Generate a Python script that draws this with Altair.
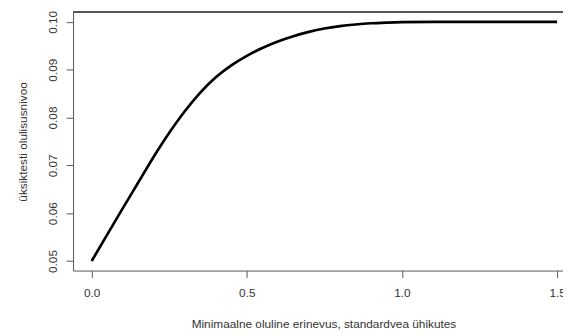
import altair as alt
import pandas as pd

# Curve
x_vals = [0.0, 0.05, 0.10, 0.15, 0.20, 0.25, 0.30, 0.35, 0.40, 0.45, 0.50,
          0.55, 0.60, 0.65, 0.70, 0.75, 0.80, 0.85, 0.90, 0.95, 1.00,
          1.10, 1.20, 1.30, 1.40, 1.50]
y_vals = [0.0500, 0.0555, 0.0610, 0.0664, 0.0718, 0.0768, 0.0813, 0.0852, 0.0884, 0.0909, 0.0929,
          0.09455, 0.0959, 0.0970, 0.0979, 0.0986, 0.0991, 0.09945, 0.0997, 0.09985, 0.09995,
          0.1000, 0.1000, 0.1000, 0.1000, 0.1000]

x_ticks = [0.0, 0.5, 1.0, 1.5]
y_ticks = [0.05, 0.06, 0.07, 0.08, 0.09, 0.10]

x_title = "Minimaalne oluline erinevus, standardvea ühikutes"
y_title = "üksiktesti olulisusnivoo"

df = pd.DataFrame({"x": x_vals, "y": y_vals})

W, H = 497, 262
FONT = "Liberation Sans"
AXIS_COL = "#555555"
TEXT_COL = "#333333"

line = alt.Chart(df).mark_line(color="black", strokeWidth=2.7, interpolate="monotone").encode(
    x=alt.X("x:Q",
            scale=alt.Scale(domain=[-0.06, 1.519], nice=False, zero=False),
            axis=alt.Axis(values=x_ticks, format=".1f", title=x_title,
                          grid=False, domain=True, domainColor=AXIS_COL,
                          tickColor=AXIS_COL, tickSize=7, labelPadding=10,
                          labelFont=FONT, labelFontSize=12, labelColor=TEXT_COL,
                          titleFont=FONT, titleFontSize=12, titleFontWeight="normal",
                          titleColor=TEXT_COL, titleX=254, titleY=58,
                          titleAlign="center", titleBaseline="alphabetic")),
    y=alt.Y("y:Q",
            scale=alt.Scale(domain=[0.048, 0.102], nice=False, zero=False),
            axis=alt.Axis(values=y_ticks, format=".2f", title=y_title,
                          grid=False, domain=True, domainColor=AXIS_COL,
                          tickColor=AXIS_COL, tickSize=7, labelPadding=7,
                          labelAngle=270, labelAlign="center", labelBaseline="bottom",
                          labelFont=FONT, labelFontSize=12, labelColor=TEXT_COL,
                          titleFont=FONT, titleFontSize=12, titleFontWeight="normal",
                          titleColor=TEXT_COL, titleAngle=270, titleX=-47,
                          titleBaseline="alphabetic")),
)

top_border = alt.Chart(df).mark_rule(color=AXIS_COL, strokeWidth=1).encode(
    x=alt.value(0), x2=alt.value(W), y=alt.value(0)
)

chart = alt.layer(top_border, line).properties(
    width=W, height=H,
    autosize=alt.AutoSizeParams(type="none"),
    padding={"left": 66, "top": 2, "right": 0, "bottom": 62},
    background="white",
).configure_view(stroke=None)

chart.save("out.html", embed_options={"renderer": "svg", "actions": False})
